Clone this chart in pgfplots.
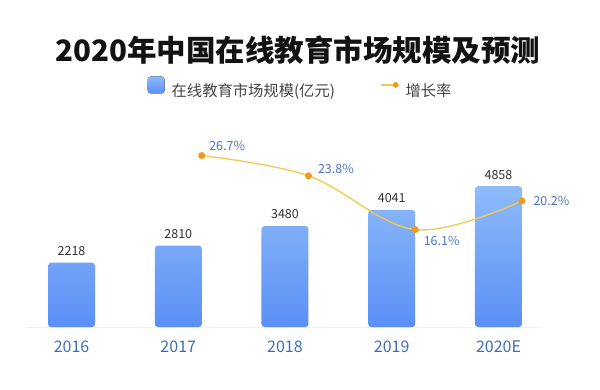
\documentclass[border=0pt]{standalone}
\usepackage{fontspec}
\setmainfont{Noto Sans CJK SC}
\usepackage{pgfplots}
\pgfplotsset{compat=1.18}
\definecolor{barTop}{HTML}{8EBBF9}
\definecolor{barBot}{HTML}{5B8FF7}
\definecolor{lineY}{HTML}{F5C84A}
\definecolor{dotO}{HTML}{F09A1A}
\definecolor{pctBlue}{HTML}{4D74C4}
\definecolor{tickBlue}{HTML}{3E6DB8}
\definecolor{valGray}{HTML}{333333}
\definecolor{legGray}{HTML}{444444}
\begin{document}
\begin{tikzpicture}
\useasboundingbox (0,0) rectangle (600pt,389pt);
\node[font=\fontsize{29.5}{29.5}\selectfont\bfseries, text=black!93] at (298pt,338.5pt) {2020年中国在线教育市场规模及预测};
\begin{axis}[
  at={(27pt,62pt)}, anchor=south west,
  scale only axis, width=513pt, height=159.4pt,
  xmin=-0.417, xmax=4.389, ymin=0, ymax=5500,
  axis x line*=bottom, axis y line=none,
  x axis line style={draw=black!6, -},
  xtick={0,1,2,3,4}, xticklabels={2016,2017,2018,2019,2020E},
  major tick length=0pt,
  /pgf/number format/assume math mode=true,
  /pgf/number format/1000 sep={},
  xticklabel style={font=\fontsize{16}{16}\selectfont, text=tickBlue, yshift=-10pt},
  clip=false,
  legend style={at={(axis description cs:0.229,1.499)}, anchor=west, draw=none, fill=none,
    legend columns=2, font=\fontsize{15.3}{15.3}\selectfont, text=legGray,
    /tikz/every odd column/.append style={column sep=5pt},
    /tikz/every even column/.append style={column sep=43pt}},
]
\addplot[ybar, bar width=47pt, draw=none, top color=barTop, bottom color=barBot,
  rounded corners=3pt,
  nodes near coords,
  every node near coord/.append style={font=\fontsize{12.5}{12.5}\selectfont, text=valGray, yshift=3.5pt},
  legend image code/.code={\fill[top color=barTop, bottom color=barBot] (0pt,-3pt) rectangle (17pt,14pt);}
] coordinates {(0,2218) (1,2810) (2,3480) (3,4041) (4,4858)};
\addlegendentry{在线教育市场规模(亿元)}
\addlegendimage{legend image code/.code={\draw[lineY, line width=1.4pt] (0pt,5.5pt) -- (16pt,5.5pt); \fill[dotO] (15pt,5.5pt) circle (2.6pt);}}
\addlegendentry{增长率}
\end{axis}
\begin{axis}[
  at={(27pt,62pt)}, anchor=south west,
  scale only axis, width=513pt, height=159.4pt,
  xmin=-0.417, xmax=4.389, ymin=2.14, ymax=24.98,
  hide axis, clip=false,
]
\addplot[smooth, tension=0.6, color=lineY, line width=1.3pt, mark=*,
  mark options={fill=dotO, draw=dotO}, mark size=2.8pt]
  coordinates {(1.22,26.7) (2.22,23.8) (3.22,16.1) (4.22,20.2)};
\begin{scope}[every node/.style={font=\fontsize{12.5}{12.5}\selectfont, text=pctBlue}]
\node[anchor=west, xshift=4pt, yshift=10pt] at (axis cs:1.22,26.7) {26.7\%};
\node[anchor=west, xshift=6pt, yshift=7pt] at (axis cs:2.22,23.8) {23.8\%};
\node[anchor=west, xshift=5pt, yshift=-11pt] at (axis cs:3.22,16.1) {16.1\%};
\node[anchor=west, xshift=8pt, yshift=0pt] at (axis cs:4.22,20.2) {20.2\%};
\end{scope}
\end{axis}
\end{tikzpicture}
\end{document}
